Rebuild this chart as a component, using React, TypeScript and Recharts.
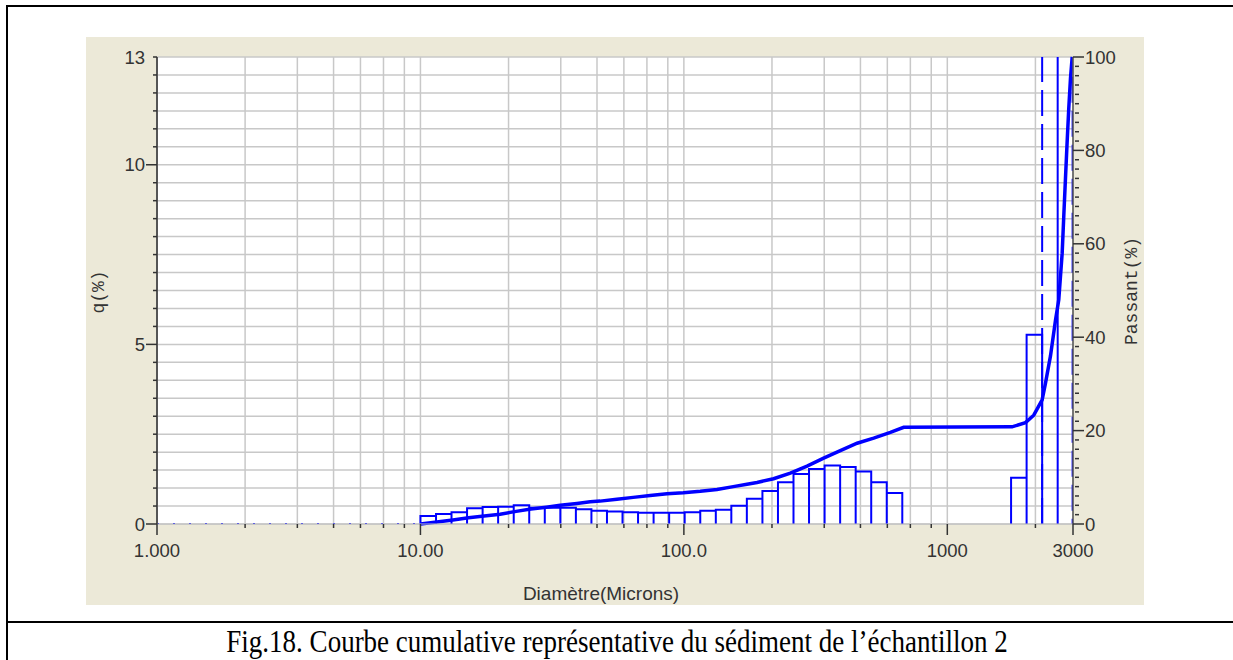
import React from 'react';
import { ComposedChart, Line, XAxis, YAxis, CartesianGrid } from 'recharts';

// Histogram (q %) — fine fraction bins (bin edges in microns, heights in %)
const fineBinEdges = [10, 11.46, 13.12, 15.03, 17.22, 19.72, 22.6, 25.88, 29.65, 33.97, 38.91, 44.57, 51.06, 58.49, 67, 76.75, 87.92, 100.7, 115.4, 132.2, 151.4, 173.4, 198.7, 227.6, 260.7, 298.6, 342.1, 391.9, 448.9, 514.2, 589, 674.7];
const fineBinHeights = [0.22, 0.28, 0.33, 0.44, 0.47, 0.48, 0.52, 0.45, 0.45, 0.45, 0.41, 0.37, 0.35, 0.33, 0.31, 0.31, 0.31, 0.33, 0.37, 0.40, 0.51, 0.70, 0.92, 1.16, 1.39, 1.53, 1.63, 1.59, 1.46, 1.16, 0.86];
// Histogram — coarse fraction bins (in-range ones)
const coarseBinEdges = [1746, 2000, 2291];
const coarseBinHeights = [1.29, 5.27];
// Histogram — coarse fraction bins going off the q scale
const tallBinEdges = [2291, 2624, 2990];
const tallBinHeights = [19, 54];
// Empty bins below 10 microns (drawn dotted on the baseline)
const emptyRange = [1, 10];

// Cumulative passing curve (Passant %)
const cumDiameter = [10, 11.54, 13.28, 15.22, 17.46, 20.07, 23.09, 26.26, 30.02, 33.94, 39.26, 44.1, 48.1, 55.7, 64.2, 74.5, 86.3, 99.5, 115.4, 133.6, 154, 173.6, 189.5, 219, 253.6, 293.5, 339.3, 392.6, 454.5, 525.4, 608, 683, 1762, 1980, 2129, 2291, 2358, 2464, 2575, 2649, 2729, 2768, 2809, 2851, 2891, 2935, 2979];
const cumPassant = [0, 0.43, 0.86, 1.35, 1.7, 2.1, 2.7, 3.2, 3.6, 4.0, 4.4, 4.75, 4.9, 5.3, 5.7, 6.1, 6.5, 6.7, 7.0, 7.4, 8.0, 8.5, 8.9, 9.7, 10.9, 12.4, 14.1, 15.7, 17.3, 18.4, 19.6, 20.7, 20.8, 21.7, 23.3, 26.6, 30.1, 36, 43.7, 48, 58, 66, 74, 82, 89, 95.5, 100];

// Axis ticks
const xTicks = [1, 2.16, 3.41, 4.68, 5.92, 7.24, 8.69, 10, 21.6, 34.1, 46.8, 59.2, 72.4, 86.9, 100, 216, 341, 468, 592, 724, 869, 1000, 2160, 3000];
const xTickLabels: Record<string, string> = { '1': '1.000', '10': '10.00', '100': '100.0', '1000': '1000', '3000': '3000' };
const qTicks = [0, 0.5, 1, 1.5, 2, 2.5, 3, 3.5, 4, 4.5, 5, 5.5, 6, 6.5, 7, 7.5, 8, 8.5, 9, 9.5, 10, 10.5, 11, 11.5, 12, 12.5, 13];
const qTickLabels: Record<string, string> = { '0': '0', '5': '5', '10': '10', '13': '13' };
const qMajor = [0, 5, 10];
const pTicks = [0, 2, 4, 6, 8, 10, 12, 14, 16, 18, 20, 22, 24, 26, 28, 30, 32, 34, 36, 38, 40, 42, 44, 46, 48, 50, 52, 54, 56, 58, 60, 62, 64, 66, 68, 70, 72, 74, 76, 78, 80, 82, 84, 86, 88, 90, 92, 94, 96, 98, 100];
const pTickLabels: Record<string, string> = { '0': '0', '20': '20', '40': '40', '60': '60', '80': '80', '100': '100' };

const BLUE = '#0000ff';
const TICK_FONT = '"Liberation Sans", Arial, sans-serif';

function outline(edges: number[], heights: number[]) {
  const pts: { x: number; q: number }[] = [];
  for (let i = 0; i < heights.length; i++) {
    pts.push({ x: edges[i], q: 0 });
    pts.push({ x: edges[i], q: heights[i] });
    pts.push({ x: edges[i + 1], q: heights[i] });
    pts.push({ x: edges[i + 1], q: 0 });
  }
  return pts;
}

const fineData = outline(fineBinEdges, fineBinHeights);
const coarseData = outline(coarseBinEdges, coarseBinHeights);
const tallData = outline(tallBinEdges, tallBinHeights);
const emptyData = emptyRange.map((x) => ({ x, q: 0 }));
const cumData = cumDiameter.map((x, i) => ({ x, p: cumPassant[i] }));

const XTick = (props: any) => {
  const { x, y, payload } = props;
  const lbl = xTickLabels[String(payload.value)];
  return (
    <g>
      <line x1={x} x2={x} y1={y} y2={y + (lbl ? 11 : 4)} stroke="#333" strokeWidth={1.5} />
      {lbl && (
        <text x={x} y={y + 33} textAnchor="middle" fontFamily={TICK_FONT} fontSize={18.5} fill="#333">
          {lbl}
        </text>
      )}
    </g>
  );
};

const QTick = (props: any) => {
  const { x, y, payload } = props;
  const v = payload.value;
  const lbl = qTickLabels[String(v)];
  const major = qMajor.includes(v);
  return (
    <g>
      <line x1={x - (major ? 11 : 4)} x2={x} y1={y} y2={y} stroke="#333" strokeWidth={1.5} />
      {lbl && (
        <text x={x - 12} y={y + 6.5} textAnchor="end" fontFamily={TICK_FONT} fontSize={18.5} fill="#333">
          {lbl}
        </text>
      )}
    </g>
  );
};

const PTick = (props: any) => {
  const { x, y, payload } = props;
  const lbl = pTickLabels[String(payload.value)];
  return (
    <g>
      {lbl ? (
        <line x1={x} x2={x + 11} y1={y} y2={y} stroke="#333" strokeWidth={1.5} />
      ) : (
        <line x1={x + 2} x2={x + 6} y1={y} y2={y} stroke="#333" strokeWidth={1.5} />
      )}
      {lbl && (
        <text x={x + 12} y={y + 6.5} textAnchor="start" fontFamily={TICK_FONT} fontSize={18.5} fill="#333">
          {lbl}
        </text>
      )}
    </g>
  );
};

export default function App() {
  return (
    <div style={{ position: 'absolute', left: 0, top: 0, width: 1233, height: 660, background: '#fff', overflow: 'hidden' }}>
      {/* frame */}
      <div style={{ position: 'absolute', left: 6, top: 5, width: 1227, height: 2, background: '#000' }} />
      <div style={{ position: 'absolute', left: 6, top: 5, width: 2, height: 655, background: '#000' }} />
      <div style={{ position: 'absolute', left: 6, top: 621, width: 1227, height: 2, background: '#000' }} />

      {/* chart panel */}
      <div style={{ position: 'absolute', left: 86, top: 37, width: 1058, height: 568, background: '#ece9d8' }}>
        <ComposedChart width={1058} height={568} margin={{ top: 20, left: 11, right: 11, bottom: 51 }}>
          <CartesianGrid stroke="#c8c8c8" strokeWidth={1.5} fill="#ffffff" fillOpacity={1} />
          <XAxis
            type="number"
            dataKey="x"
            scale="log"
            domain={[1, 3000]}
            allowDataOverflow
            ticks={xTicks}
            interval={0}
            height={30}
            tickSize={0}
            tickMargin={0}
            tickLine={false}
            axisLine={{ stroke: '#c0c0c0', strokeWidth: 1 }}
            tick={<XTick />}
          />
          <YAxis
            type="number"
            domain={[0, 13]}
            allowDataOverflow
            ticks={qTicks}
            interval={0}
            width={60}
            tickSize={0}
            tickMargin={0}
            tickLine={false}
            axisLine={{ stroke: '#555', strokeWidth: 2 }}
            tick={<QTick />}
          />
          <YAxis
            yAxisId="p"
            orientation="right"
            type="number"
            domain={[0, 100]}
            ticks={pTicks}
            interval={0}
            width={60}
            tickSize={0}
            tickMargin={0}
            tickLine={false}
            axisLine={{ stroke: '#555', strokeWidth: 1.5 }}
            tick={<PTick />}
          />
          <Line data={emptyData} dataKey="q" type="linear" stroke={BLUE} strokeWidth={2} strokeDasharray="2 14" dot={false} activeDot={false} isAnimationActive={false} />
          <Line data={fineData} dataKey="q" type="linear" stroke={BLUE} strokeWidth={2} dot={false} activeDot={false} isAnimationActive={false} />
          <Line data={coarseData} dataKey="q" type="linear" stroke={BLUE} strokeWidth={2} dot={false} activeDot={false} isAnimationActive={false} />
          <Line data={tallData} dataKey="q" type="linear" stroke={BLUE} strokeWidth={2} strokeDasharray="26 8" dot={false} activeDot={false} isAnimationActive={false} />
          <Line data={cumData} yAxisId="p" dataKey="p" type="linear" stroke={BLUE} strokeWidth={3.5} dot={false} activeDot={false} isAnimationActive={false} />
        </ComposedChart>
      </div>

      {/* axis titles */}
      <div style={{ position: 'absolute', left: 99, top: 292, transform: 'translate(-50%, -50%) rotate(-90deg)', fontFamily: '"Liberation Mono", monospace', fontSize: 18, color: '#333', whiteSpace: 'nowrap', lineHeight: 1 }}>
        q(%)
      </div>
      <div style={{ position: 'absolute', left: 1132, top: 291, transform: 'translate(-50%, -50%) rotate(-90deg)', fontFamily: '"Liberation Mono", monospace', fontSize: 18, color: '#333', whiteSpace: 'nowrap', lineHeight: 1 }}>
        Passant(%)
      </div>
      <div style={{ position: 'absolute', left: 601, top: 593, transform: 'translate(-50%, -50%)', fontFamily: TICK_FONT, fontSize: 19, color: '#333', whiteSpace: 'nowrap', lineHeight: 1 }}>
        Diamètre(Microns)
      </div>

      {/* caption */}
      <div style={{ position: 'absolute', left: 617, top: 642, transform: 'translate(-50%, -50%) scaleY(1.15)', fontFamily: '"Liberation Serif", "Times New Roman", serif', fontSize: 27, color: '#000', whiteSpace: 'nowrap', lineHeight: 1 }}>
        Fig.18. Courbe cumulative représentative du sédiment de l’échantillon 2
      </div>
    </div>
  );
}
